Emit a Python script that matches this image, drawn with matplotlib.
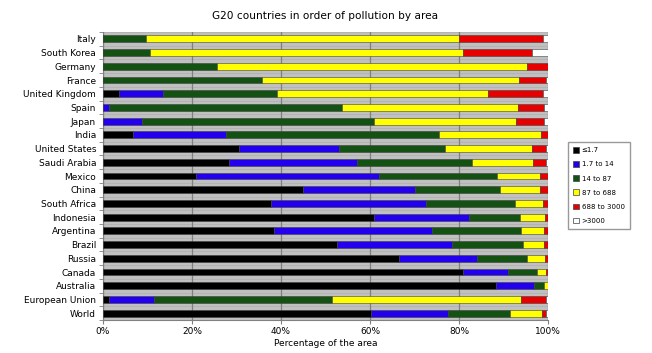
import numpy as np
import matplotlib.pyplot as plt
from matplotlib.patches import Patch

countries = ['Italy', 'South Korea', 'Germany', 'France', 'United Kingdom', 'Spain',
             'Japan', 'India', 'United States', 'Saudi Arabia', 'Mexico', 'China',
             'South Africa', 'Indonesia', 'Argentina', 'Brazil', 'Russia', 'Canada',
             'Australia', 'European Union', 'World']

series_names = ['\u22641.7', '1.7 to 14', '14 to 87', '87 to 688', '688 to 3000', '>3000']
colors = ['#000000', '#2200ee', '#145214', '#ffff00', '#e60000', '#ffffff']

# percentage of area per density class
le_1_7 = [0, 0, 0, 0, 3.6, 0, 0, 6.7, 30.6, 28.4, 20.8, 45.0, 37.8, 60.9, 38.5, 52.5, 66.6, 80.8, 88.3, 1.3, 60.3]
d_1_7_14 = [0, 0, 0, 0, 9.8, 1.3, 8.8, 20.9, 22.5, 28.6, 41.3, 25.0, 34.8, 21.4, 35.5, 25.9, 17.5, 10.3, 8.5, 10.2, 17.2]
d_14_87 = [9.7, 10.6, 25.7, 35.7, 25.8, 52.3, 52.0, 47.8, 23.8, 25.9, 26.4, 19.3, 20.0, 11.5, 20.0, 15.9, 11.1, 6.4, 2.4, 39.9, 14.0]
d_87_688 = [70.4, 70.3, 69.5, 57.7, 47.3, 39.7, 32.1, 23.0, 19.4, 13.7, 9.8, 9.0, 6.3, 5.6, 5.0, 4.9, 4.2, 2.1, 0.7, 42.6, 7.2]
d_688_3000 = [18.7, 15.6, 4.8, 6.1, 12.3, 5.9, 6.1, 1.6, 3.3, 3.0, 1.7, 1.7, 1.1, 0.6, 1.0, 0.8, 0.6, 0.4, 0.1, 5.6, 0.9]
gt_3000 = [1.2, 3.5, 0, 0.5, 1.2, 0.8, 1.0, 0, 0.4, 0.4, 0, 0, 0, 0, 0, 0, 0, 0, 0, 0.4, 0.4]

data = [le_1_7, d_1_7_14, d_14_87, d_87_688, d_688_3000, gt_3000]

fig = plt.figure(figsize=(6.52, 3.53), dpi=100)
ax = fig.add_axes([103 / 652, 1 - 320 / 353, 445 / 652, 288 / 353])
ax.set_facecolor('#c0c0c0')

y = np.arange(len(countries))
left = np.zeros(len(countries))
for vals, col, name in zip(data, colors, series_names):
    vals = np.array(vals)
    ax.barh(y, vals, left=left, height=0.5, color=col, edgecolor='#404040',
            linewidth=0.4, label=name, zorder=3)
    left += vals

# faint row separators and vertical grid
for b in np.arange(-0.5, len(countries), 1.0):
    ax.axhline(b, color='#b2b2b2', linewidth=0.6, zorder=1)
ax.set_xticks(np.arange(0, 101, 20))
ax.set_xticklabels([f'{v}%' for v in range(0, 101, 20)], fontsize=6.5)
ax.xaxis.grid(True, color='#808080', linewidth=0.9, zorder=2)
ax.set_xlim(0, 100)
ax.set_ylim(len(countries) - 0.5, -0.5)
ax.set_yticks(y)
ax.set_yticklabels(countries, fontsize=6.5)
ax.set_yticks(np.arange(-0.5, len(countries), 1.0), minor=True)
ax.tick_params(axis='y', which='major', length=0, pad=5)
ax.tick_params(axis='y', which='minor', length=3, color='#808080')
ax.tick_params(axis='x', length=3, color='#808080', labelsize=6.5, pad=2)
for s in ['top', 'right']:
    ax.spines[s].set_visible(False)
ax.spines['left'].set_color('#808080')
ax.spines['bottom'].set_color('#808080')

ax.set_xlabel('Percentage of the area', fontsize=6.5, labelpad=2)
fig.text(325 / 652, 1 - 16 / 353, 'G20 countries in order of pollution by area',
         ha='center', va='center', fontsize=7.6)

handles = [Patch(facecolor=c, edgecolor='#404040', linewidth=0.5) for c in colors]
leg = fig.legend(handles, series_names, loc='upper left',
                 bbox_to_anchor=(565 / 652, 1 - 139 / 353), fontsize=5,
                 frameon=True, fancybox=False, edgecolor='#808080',
                 handlelength=0.8, handleheight=0.8, handletextpad=0.4,
                 labelspacing=1.15, borderpad=0.7)

fig.savefig('out.png', dpi=100)
